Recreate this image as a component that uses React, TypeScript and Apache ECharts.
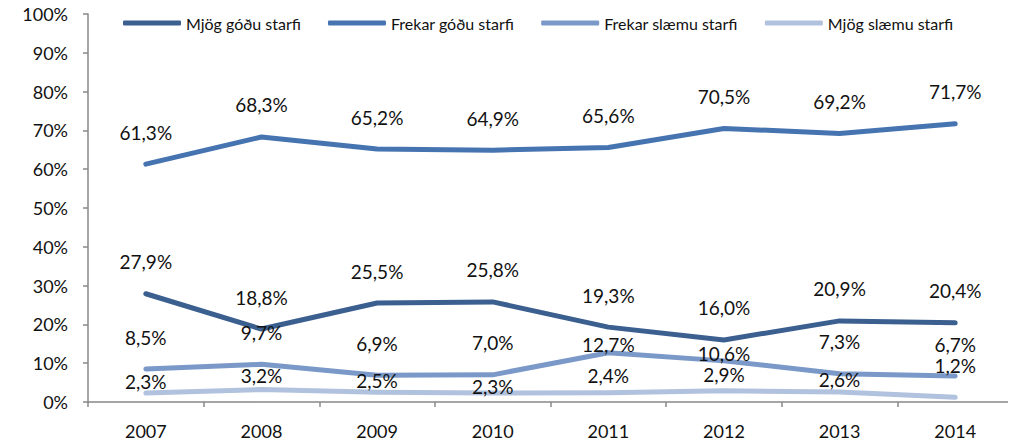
import React, { useEffect, useRef } from "react";
import * as echarts from "echarts";

const years = ["2007", "2008", "2009", "2010", "2011", "2012", "2013", "2014"];
const seriesNames = ["Mjög góðu starfi", "Frekar góðu starfi", "Frekar slæmu starfi", "Mjög slæmu starfi"];
const mjogGodu = [27.9, 18.8, 25.5, 25.8, 19.3, 16.0, 20.9, 20.4];
const frekarGodu = [61.3, 68.3, 65.2, 64.9, 65.6, 70.5, 69.2, 71.7];
const frekarSlaemu = [8.5, 9.7, 6.9, 7.0, 12.7, 10.6, 7.3, 6.7];
const mjogSlaemu = [2.3, 3.2, 2.5, 2.3, 2.4, 2.9, 2.6, 1.2];
const yTicks = { min: 0, max: 100, interval: 10 };

// label lift (px above the default label placement), styling only
const liftMjogGodu = [0, 0, 0, 0, 0, 0, 0, 0];
const liftFrekarGodu = [0, 0, 0, 0, 0, 0, 0, 0];
const liftFrekarSlaemu = [0, 0, 0, 0, -24, -25, 0, 0];
const liftMjogSlaemu = [-20, -18, -20, -25, -15, -16, -20, 0];

const colors = ["#3B5F8F", "#4674B0", "#7A99C8", "#B0C2DE"];
const FONT = "Lato";

export default function App() {
  const ref = useRef<HTMLDivElement>(null);
  useEffect(() => {
    if (!ref.current) return;
    const chart = echarts.init(ref.current, undefined, { renderer: "svg" });
    const values = [mjogGodu, frekarGodu, frekarSlaemu, mjogSlaemu];
    const lifts = [liftMjogGodu, liftFrekarGodu, liftFrekarSlaemu, liftMjogSlaemu];
    const fmt = (v: number) => v.toFixed(1).replace(".", ",") + "%";
    chart.setOption({
      animation: false,
      color: colors,
      textStyle: { fontFamily: FONT },
      legend: {
        left: 118,
        top: 10,
        itemWidth: 58,
        itemHeight: 5,
        itemGap: 27,
        icon: "roundRect",
        textStyle: { fontFamily: FONT, fontSize: 16, color: "#111" },
        data: seriesNames,
      },
      grid: { left: 88, right: 3, top: 14, bottom: 44 },
      xAxis: {
        type: "category",
        data: years,
        boundaryGap: true,
        axisLine: { lineStyle: { color: "#888", width: 1.5 } },
        axisTick: { show: true, length: 5, lineStyle: { color: "#888", width: 1.5 } },
        axisLabel: { margin: 20, fontSize: 18, color: "#111", fontFamily: FONT },
      },
      yAxis: {
        type: "value",
        min: yTicks.min,
        max: yTicks.max,
        interval: yTicks.interval,
        splitLine: { show: false },
        axisLine: { show: true, lineStyle: { color: "#888", width: 1.5 } },
        axisTick: { show: true, length: 5, lineStyle: { color: "#888", width: 1.5 } },
        axisLabel: { margin: 20, fontSize: 18, color: "#111", fontFamily: FONT, formatter: "{value}%" },
      },
      series: seriesNames.map((name, i) => ({
        name,
        type: "line",
        symbol: "circle",
        symbolSize: 1,
        showSymbol: true,
        lineStyle: { width: 5, cap: "round", join: "round", color: colors[i] },
        itemStyle: { color: colors[i] },
        label: {
          show: true,
          position: "top",
          distance: 22,
          fontSize: 19,
          fontFamily: FONT,
          color: "#111",
          formatter: (p: any) => fmt(p.value),
        },
        data: values[i].map((v, j) => ({
          value: v,
          label: { offset: [0, -lifts[i][j]] },
        })),
      })),
    });
    return () => chart.dispose();
  }, []);
  return <div ref={ref} style={{ width: 1016, height: 446, margin: -8 }} />;
}
